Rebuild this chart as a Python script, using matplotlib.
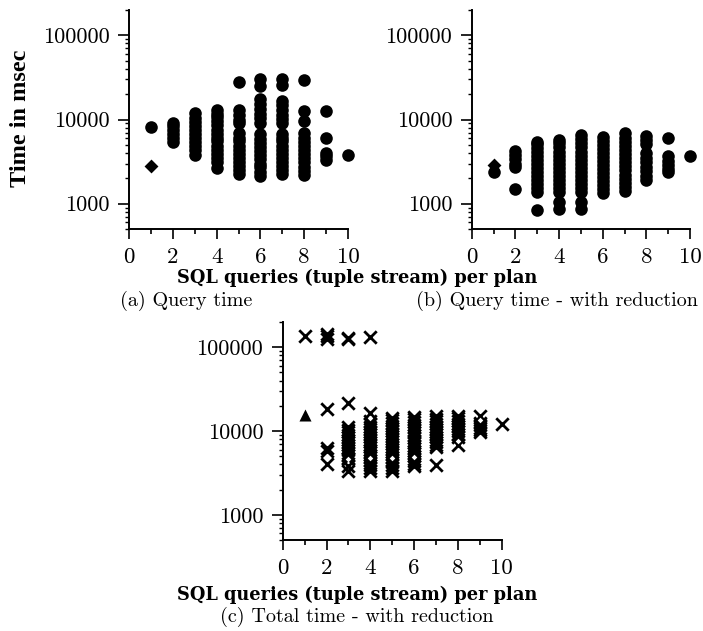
import numpy as np
import matplotlib
matplotlib.use('Agg')
from matplotlib import pyplot as plt
from matplotlib.ticker import LogLocator, NullFormatter, MultipleLocator

# ---- data ----
# (a) Query time: circles per number of SQL queries
a_x = [1,
       2, 2, 2, 2, 2, 2,
       3, 3, 3, 3, 3, 3, 3, 3, 3, 3, 3,
       4, 4, 4, 4, 4, 4, 4, 4, 4, 4, 4, 4, 4, 4, 4,
       5, 5, 5, 5, 5, 5, 5, 5, 5, 5, 5, 5, 5, 5, 5, 5,
       6, 6, 6, 6, 6, 6, 6, 6, 6, 6, 6, 6, 6, 6, 6, 6, 6, 6, 6,
       7, 7, 7, 7, 7, 7, 7, 7, 7, 7, 7, 7, 7, 7, 7, 7, 7, 7, 7,
       8, 8, 8, 8, 8, 8, 8, 8, 8, 8, 8, 8, 8, 8,
       9, 9, 9, 9, 9,
       10]
a_t = [8200,
       5400, 6000, 6700, 7500, 8300, 9200,
       3800, 4300, 4800, 5400, 6000, 6700, 7500, 8400, 9400, 10500, 11800,
       2650, 3100, 3500, 3900, 4400, 4900, 5500, 6100, 6800, 7600, 8500, 9500, 10600, 11700, 12900,
       28000, 9000, 10000, 11300, 12800, 2250, 2500, 2800, 3100, 3500, 3900, 4400, 4900, 5500, 6100, 6900,
       30000, 25000, 9200, 10300, 11600, 13200, 15100, 17300, 2150, 2400, 2700, 3000, 3350, 3750, 4200, 4700, 5300, 5900, 6700,
       30000, 25500, 9000, 10100, 11400, 13000, 14800, 16500, 2250, 2500, 2800, 3150, 3500, 3900, 4400, 4900, 5500, 6100, 6800,
       29500, 12600, 9600, 2200, 2450, 2750, 3100, 3450, 3850, 4300, 4800, 5400, 6000, 6900,
       12600, 6100, 4050, 3700, 3300,
       3750]
a_dx = [1]
a_dt = [2800]

# (b) Query time - with reduction
b_x = [1,
       2, 2, 2, 2, 2, 2,
       3, 3, 3, 3, 3, 3, 3, 3, 3, 3, 3, 3, 3, 3, 3,
       4, 4, 4, 4, 4, 4, 4, 4, 4, 4, 4, 4, 4, 4, 4, 4,
       5, 5, 5, 5, 5, 5, 5, 5, 5, 5, 5, 5, 5, 5, 5, 5, 5,
       6, 6, 6, 6, 6, 6, 6, 6, 6, 6, 6, 6, 6, 6, 6,
       7, 7, 7, 7, 7, 7, 7, 7, 7, 7, 7, 7, 7, 7, 7,
       8, 8, 8, 8, 8, 8, 8, 8, 8, 8,
       9, 9, 9, 9, 9, 9,
       10]
b_t = [2360,
       1490, 2700, 3000, 3400, 3800, 4250,
       850, 1365, 1520, 1700, 1900, 2120, 2370, 2650, 2950, 3300, 3700, 4100, 4600, 5050, 5470,
       865, 1055, 1365, 1520, 1700, 1900, 2120, 2370, 2650, 2950, 3300, 3700, 4150, 4650, 5200, 5720,
       865, 1040, 1365, 1520, 1700, 1900, 2120, 2370, 2650, 2950, 3300, 3700, 4150, 4650, 5200, 5850, 6550,
       1330, 1480, 1650, 1850, 2070, 2300, 2580, 2880, 3200, 3580, 4000, 4480, 5000, 5600, 6270,
       1425, 1590, 1780, 1990, 2220, 2480, 2770, 3100, 3460, 3860, 4320, 4820, 5400, 6050, 6820,
       6380, 5700, 5100, 3980, 3500, 3100, 2750, 2450, 2150, 1900,
       5950, 3700, 3250, 2900, 2600, 2350,
       3700]
b_dx = [1]
b_dt = [2870]

# (c) Total time - with reduction: crosses, listed per x value
c_t1 = [137000]
c_t2 = [145000, 135000, 126000, 18100, 6200, 5800, 4050]
c_t3 = [130000, 124000, 21300, 11200, 10300, 9600, 9000, 8400, 7800, 7300, 6800,
        6300, 5900, 5500, 5100, 4750, 4600, 3770, 3290]
c_t4 = [131000, 16200, 13000, 12000, 11200, 10500, 9800, 9100, 8500, 7900, 7400,
        6900, 6400, 6000, 5600, 5200, 4850, 4500, 4200, 3900, 3650, 3370]
c_t5 = [14400, 13400, 12500, 11600, 10800, 10000, 9300, 8700, 8100, 7500, 7000,
        6500, 6050, 5650, 5250, 4900, 4550, 4250, 3950, 3650, 3370]
c_t6 = [14800, 13800, 12800, 11900, 11100, 10300, 9600, 8900, 8300, 7700, 7200,
        6700, 6200, 5800, 5400, 5000, 4650, 4350, 4050, 3850]
c_t7 = [15100, 14000, 13000, 12100, 11300, 10500, 9800, 9100, 8500, 7900, 7300,
        6800, 6400, 3950]
c_t8 = [15100, 14100, 13100, 12200, 11400, 10600, 9900, 9200, 8400, 6840]
c_t9 = [15000, 12500, 11700, 10900, 10300, 9650]
c_t10 = [12000]
c_cols = [c_t1, c_t2, c_t3, c_t4, c_t5, c_t6, c_t7, c_t8, c_t9, c_t10]
c_tri_x = [1]
c_tri_t = [15500]
# small white open markers showing through the crosses
c_w_x = [3, 4, 4, 5, 6, 8, 9]
c_w_t = [4650, 14100, 4730, 4810, 4950, 7670, 13500]

yticks = [1000, 10000, 100000]
ytick_labels = ['1000', '10000', '100000']
xticks = [0, 2, 4, 6, 8, 10]

W, H = 703, 631
fig = plt.figure(figsize=(W / 100, H / 100), dpi=100)


def px(l, b, r, t):
    return [l / W, 1 - b / H, (r - l) / W, (b - t) / H]


def style(ax):
    ax.set_yscale('log')
    ax.set_xlim(0, 10)
    ax.set_ylim(500, 200000)
    for s in ['top', 'right']:
        ax.spines[s].set_visible(False)
    for s in ['left', 'bottom']:
        ax.spines[s].set_linewidth(1.4)
    ax.set_xticks(xticks)
    ax.set_xticklabels([str(v) for v in xticks])
    ax.xaxis.set_minor_locator(MultipleLocator(1))
    ax.set_yticks(yticks)
    ax.set_yticklabels(ytick_labels)
    ax.yaxis.set_minor_locator(LogLocator(base=10, subs=np.arange(2, 10)))
    ax.yaxis.set_minor_formatter(NullFormatter())
    ax.tick_params(axis='x', which='major', direction='out', length=7, width=1.2, pad=6)
    ax.tick_params(axis='x', which='minor', direction='out', length=3.5, width=1.2)
    ax.tick_params(axis='y', which='major', direction='out', length=8, width=1.2, pad=6)
    ax.tick_params(axis='y', which='minor', direction='out', length=3, width=1.0)
    for lab in ax.get_xticklabels():
        lab.set_fontfamily('cmr10')
        lab.set_fontsize(16.5)
    for lab in ax.get_yticklabels():
        lab.set_fontfamily('cmr10')
        lab.set_fontsize(16)
    ax.set_facecolor('none')


ax_a = fig.add_axes(px(129, 229, 348, 10))
ax_b = fig.add_axes(px(471.7, 229, 690, 10))
ax_c = fig.add_axes(px(282.7, 540, 501.7, 322))
for ax in (ax_a, ax_b, ax_c):
    style(ax)

ax_a.scatter(a_x, a_t, s=82, marker='o', color='black', linewidths=0, clip_on=False)
ax_a.scatter(a_dx, a_dt, s=50, marker='D', color='black', linewidths=0, clip_on=False)

ax_b.scatter(b_x, b_t, s=82, marker='o', color='black', linewidths=0, clip_on=False)
ax_b.scatter(b_dx, b_dt, s=50, marker='D', color='black', linewidths=0, clip_on=False)

for i, col in enumerate(c_cols):
    ax_c.scatter([i + 1] * len(col), col, s=80, marker='x', color='black',
                 linewidths=2.0, clip_on=False)
ax_c.scatter(c_tri_x, c_tri_t, s=75, marker='^', color='black', linewidths=0)
ax_c.scatter(c_w_x, c_w_t, s=8, marker='D', color='white', linewidths=0, zorder=5)

# labels and captions
fig.text(21 / W, 1 - 118 / H, 'Time in msec', rotation=90, ha='center', va='center',
         fontfamily='Liberation Serif', fontweight='bold', fontsize=17.5)
xl = 'SQL queries (tuple stream) per plan'
fig.text(357 / W, 1 - 283 / H, xl, ha='center', va='baseline',
         fontfamily='DejaVu Serif', fontweight='bold', fontsize=12.8)
fig.text(186 / W, 1 - 306 / H, '(a) Query time', ha='center', va='baseline',
         fontfamily='cmr10', fontsize=14.5)
fig.text(557 / W, 1 - 306 / H, '(b) Query time - with reduction', ha='center', va='baseline',
         fontfamily='cmr10', fontsize=14.5)
fig.text(357 / W, 1 - 600 / H, xl, ha='center', va='baseline',
         fontfamily='DejaVu Serif', fontweight='bold', fontsize=12.8)
fig.text(357 / W, 1 - 622 / H, '(c) Total time - with reduction', ha='center', va='baseline',
         fontfamily='cmr10', fontsize=14.5)

fig.savefig('out.png', dpi=100)
